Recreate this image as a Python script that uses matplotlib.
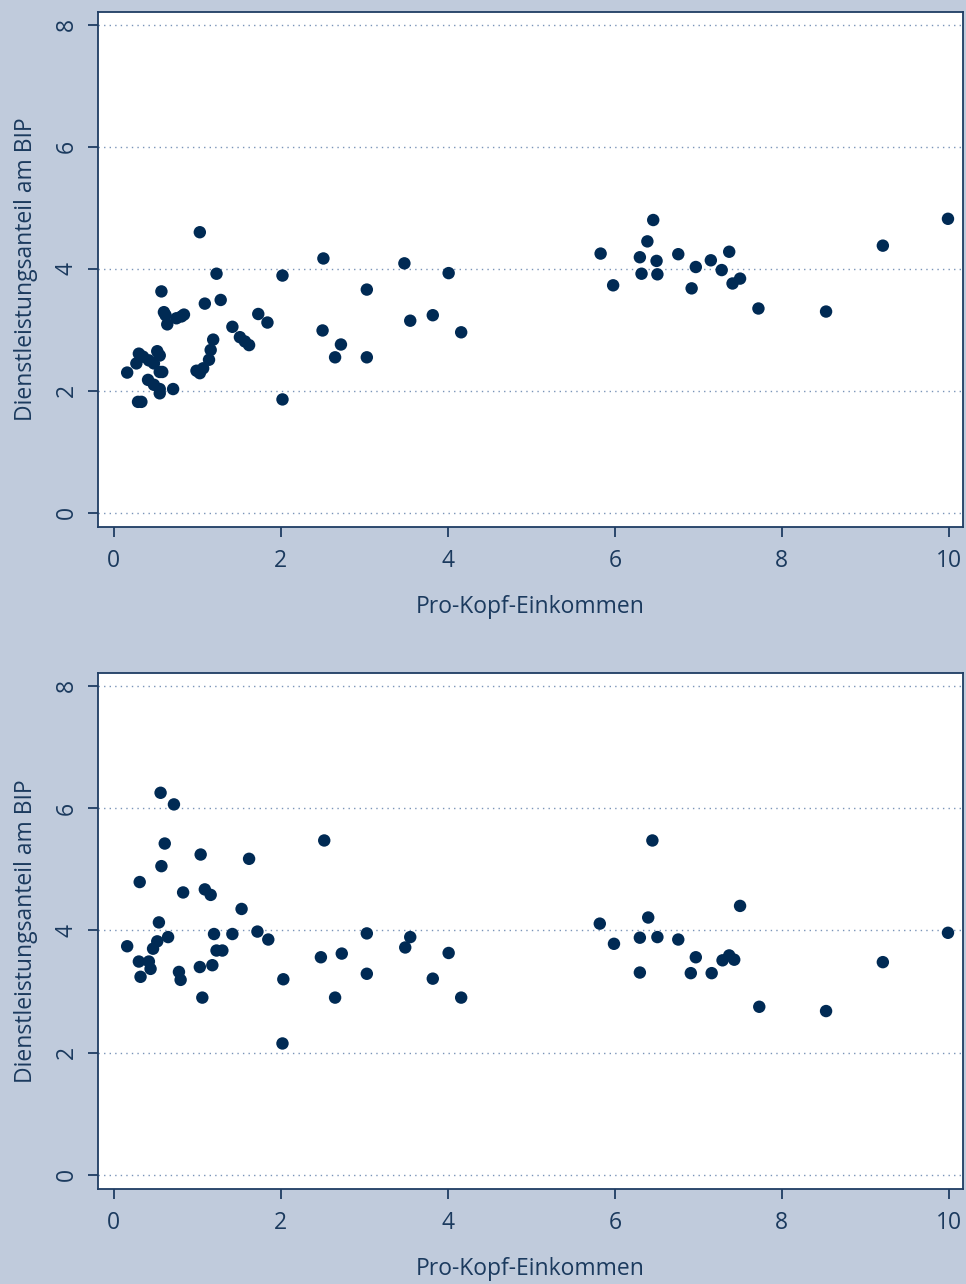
import numpy as np
import matplotlib.pyplot as plt

# Werte
x_oben = [1.03, 1.23, 2.02, 0.57, 1.09, 1.28, 0.60, 0.62, 0.64, 0.75, 0.81, 0.84,
          1.73, 1.84, 1.42, 1.51, 1.57, 1.62, 1.19, 1.16, 1.14, 0.99, 1.03, 1.07,
          0.30, 0.35, 0.42, 0.27, 0.48, 0.52, 0.55, 0.16, 0.55, 0.58,
          0.41, 0.48, 0.55, 0.55, 0.71, 0.29, 0.33, 2.02,
          2.51, 3.48, 4.01, 3.03, 2.50, 2.72, 2.65, 3.03, 3.55, 3.82, 4.16,
          5.83, 5.98, 6.30, 6.32, 6.39, 6.46, 6.50, 6.51, 6.76, 6.92, 6.97,
          7.15, 7.28, 7.37, 7.41, 7.50, 7.72, 8.53, 9.21, 9.99]
y_oben = [4.60, 3.92, 3.89, 3.63, 3.43, 3.49, 3.29, 3.24, 3.09, 3.19, 3.22, 3.25,
          3.26, 3.12, 3.05, 2.88, 2.81, 2.75, 2.84, 2.67, 2.51, 2.33, 2.29, 2.37,
          2.61, 2.56, 2.50, 2.45, 2.45, 2.65, 2.58, 2.30, 2.31, 2.31,
          2.18, 2.10, 2.03, 1.96, 2.03, 1.82, 1.82, 1.86,
          4.17, 4.09, 3.93, 3.66, 2.99, 2.76, 2.55, 2.55, 3.15, 3.24, 2.96,
          4.25, 3.73, 4.19, 3.92, 4.45, 4.80, 4.13, 3.91, 4.24, 3.68, 4.03,
          4.14, 3.98, 4.28, 3.76, 3.84, 3.35, 3.30, 4.38, 4.82]

x_unten = [0.56, 0.72, 0.61, 1.04, 0.57, 1.62, 0.31, 0.83, 1.09, 1.16, 1.53,
           0.54, 1.20, 1.42, 1.72, 1.85, 0.16, 0.52, 0.65, 0.47, 1.23, 1.30,
           0.30, 0.42, 0.44, 0.32, 0.78, 0.80, 1.03, 1.18, 1.06, 2.03, 2.02,
           2.52, 3.03, 3.55, 3.49, 2.48, 2.73, 4.01, 3.03, 3.82, 2.65, 4.16,
           6.45, 5.82, 6.40, 7.50, 5.99, 6.30, 6.51, 6.76, 6.97, 7.29, 7.37,
           7.43, 6.30, 6.91, 7.16, 7.73, 8.53, 9.21, 9.99]
y_unten = [6.25, 6.06, 5.42, 5.24, 5.05, 5.17, 4.79, 4.62, 4.67, 4.58, 4.35,
           4.13, 3.94, 3.94, 3.98, 3.85, 3.74, 3.82, 3.89, 3.70, 3.67, 3.67,
           3.49, 3.49, 3.37, 3.24, 3.32, 3.19, 3.40, 3.43, 2.90, 3.20, 2.15,
           5.47, 3.95, 3.89, 3.72, 3.56, 3.62, 3.63, 3.29, 3.21, 2.90, 2.90,
           5.47, 4.11, 4.21, 4.40, 3.78, 3.88, 3.89, 3.85, 3.56, 3.51, 3.59,
           3.52, 3.31, 3.30, 3.30, 2.75, 2.68, 3.48, 3.96]

hintergrund = '#c0cbdc'
navy = '#002a54'
textfarbe = '#1b3a5e'

plt.rcParams['font.family'] = ['Open Sans', 'DejaVu Sans']

fig = plt.figure(figsize=(9.66, 12.84), dpi=100)
fig.patch.set_facecolor(hintergrund)

positionen = [[0.1014, 0.5896, 0.8955, 0.4011],
              [0.1014, 0.0740, 0.8955, 0.4019]]
daten = [(x_oben, y_oben), (x_unten, y_unten)]

for pos, (xs, ys) in zip(positionen, daten):
    ax = fig.add_axes(pos)
    ax.set_facecolor('white')
    ax.scatter(xs, ys, s=80, color=navy, edgecolors='none', zorder=3)
    ax.set_xlim(-0.19, 10.17)
    ax.set_ylim(-0.23, 8.21)
    ax.set_xticks([0, 2, 4, 6, 8, 10])
    ax.set_yticks([0, 2, 4, 6, 8])
    ax.yaxis.grid(True, linestyle=(0, (1, 3)), color='#7a94b8', linewidth=1.0)
    ax.set_axisbelow(True)
    for s in ax.spines.values():
        s.set_color('#1f3d63')
        s.set_linewidth(1.3)
    ax.tick_params(axis='both', colors='#1f3d63', labelcolor=textfarbe,
                   labelsize=16.5, length=7, width=1.3, direction='out')
    ax.tick_params(axis='x', pad=9)
    ax.tick_params(axis='y', pad=7)
    for lab in ax.get_yticklabels():
        lab.set_rotation(90)
        lab.set_va('center')
    ax.set_xlabel('Pro-Kopf-Einkommen', fontsize=16.5, color=textfarbe, labelpad=16)
    ax.set_ylabel('Dienstleistungsanteil am BIP', fontsize=16.5, color=textfarbe,
                  labelpad=12)

fig.savefig('out.png', dpi=100, facecolor=hintergrund)
